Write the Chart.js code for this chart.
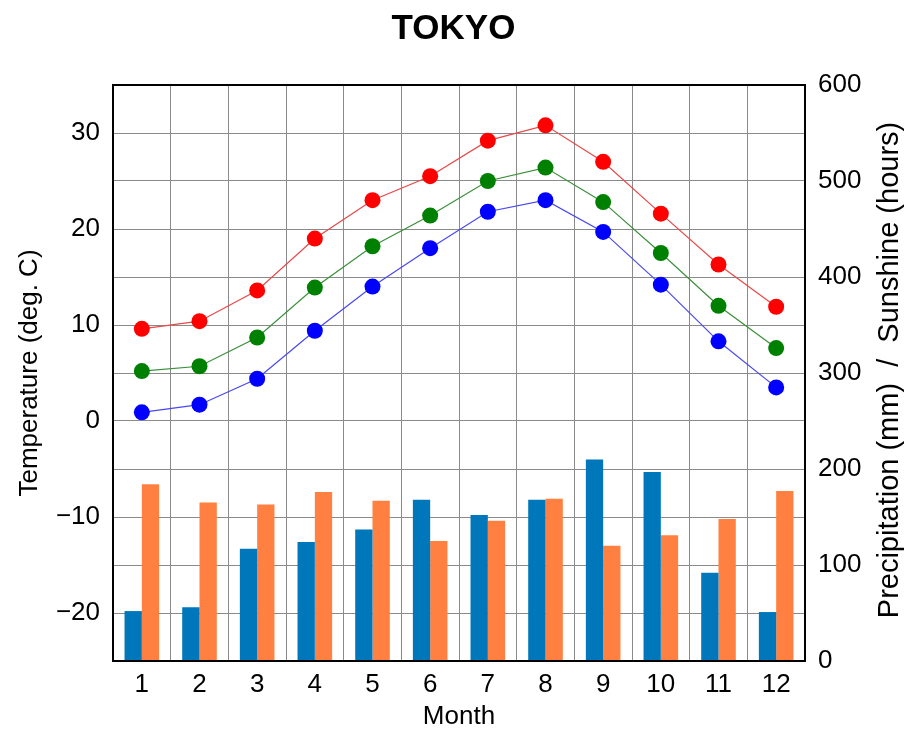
<!DOCTYPE html>
<html>
<head>
<meta charset="utf-8">
<script src="https://cdn.jsdelivr.net/npm/chart.js@4/dist/chart.umd.min.js"></script>
<style>
  body { margin: 0; background: #fff; }
  #wrap { width: 907px; height: 730px; position: relative; }
</style>
</head>
<body>
<div id="wrap"><canvas id="chart"></canvas></div>
<script>
const months = ['1', '2', '3', '4', '5', '6', '7', '8', '9', '10', '11', '12'];
const tempHigh = [9.6, 10.4, 13.6, 19.0, 23.0, 25.5, 29.2, 30.8, 27.0, 21.6, 16.3, 11.9];
const tempMean = [5.2, 5.7, 8.7, 13.9, 18.2, 21.4, 25.0, 26.4, 22.8, 17.5, 12.0, 7.6];
const tempLow = [0.9, 1.7, 4.4, 9.4, 14.0, 18.0, 21.8, 23.0, 19.7, 14.2, 8.3, 3.5];
const precipitation = [52, 56, 117, 124, 137, 168, 152, 168, 210, 197, 92, 51];
const sunshine = [184, 165, 163, 176, 167, 125, 146, 169, 120, 131, 148, 177];

const FONT = "'Liberation Sans', Arial, sans-serif";
const rightTitle = 'Precipitation (mm)  /  Sunshine (hours)';

function lineSet(label, values, lineColor, dotColor) {
    return {
        type: 'line',
        label: label,
        data: values,
        yAxisID: 'y',
        borderColor: lineColor,
        borderWidth: 1.2,
        pointRadius: 8,
        pointBorderWidth: 0,
        pointBackgroundColor: dotColor,
        tension: 0,
        order: 0
    };
}

function barSet(label, values, color) {
    return {
        type: 'bar',
        label: label,
        data: values,
        yAxisID: 'y1',
        backgroundColor: color,
        borderWidth: 0,
        categoryPercentage: 0.6,
        barPercentage: 1.0,
        order: 1
    };
}

// frame around the plot + right axis title reading bottom-to-top
const framePlugin = {
    id: 'frame',
    afterDraw(chart) {
        const ctx = chart.ctx;
        const a = chart.chartArea;
        ctx.save();
        ctx.strokeStyle = '#000';
        ctx.lineWidth = 2;
        ctx.strokeRect(a.left, a.top, a.right - a.left, a.bottom - a.top);
        ctx.translate(890, (a.top + a.bottom) / 2 - 3);
        ctx.rotate(-Math.PI / 2);
        ctx.font = '29px ' + FONT;
        ctx.fillStyle = '#000';
        ctx.textAlign = 'center';
        ctx.textBaseline = 'middle';
        ctx.fillText(rightTitle, 0, 0);
        ctx.restore();
    }
};

new Chart(document.getElementById('chart'), {
    type: 'bar',
    data: {
        labels: months,
        datasets: [
            lineSet('High', tempHigh, '#e84848', '#ff0000'),
            lineSet('Mean', tempMean, '#3a8f3a', '#008000'),
            lineSet('Low', tempLow, '#4848f0', '#0000ff'),
            barSet('Precipitation', precipitation, '#0077bb'),
            barSet('Sunshine', sunshine, '#ff8040')
        ]
    },
    options: {
        responsive: true,
        maintainAspectRatio: false,
        animation: false,
        layout: { padding: 0 },
        plugins: {
            legend: { display: false },
            tooltip: { enabled: false },
            title: {
                display: true,
                text: 'TOKYO',
                color: '#000',
                font: { family: FONT, size: 35, weight: 'bold', lineHeight: 1.2 },
                padding: { top: 8, bottom: 35 }
            }
        },
        scales: {
            x: {
                offset: true,
                grid: { offset: true, color: '#8a8a8a', lineWidth: 1, drawTicks: false },
                border: { display: false },
                ticks: { color: '#000', font: { family: FONT, size: 26 }, padding: 8, maxRotation: 0 },
                title: {
                    display: true, text: 'Month', color: '#000',
                    font: { family: FONT, size: 26, lineHeight: 1.0 },
                    padding: { top: 0, bottom: 0 }
                },
                afterFit(scale) { scale.height = 69; }
            },
            y: {
                position: 'left',
                min: -25,
                max: 35,
                grid: { color: '#8a8a8a', lineWidth: 1, drawTicks: false },
                border: { display: false },
                ticks: {
                    stepSize: 5,
                    color: '#000',
                    font: { family: FONT, size: 26 },
                    padding: 13,
                    callback: function (v) {
                        if (v % 10 !== 0) return '';
                        return v < 0 ? '\u2212' + Math.abs(v) : String(v);
                    }
                },
                title: {
                    display: true, text: 'Temperature (deg. C)', color: '#000',
                    font: { family: FONT, size: 26, lineHeight: 1.2 },
                    padding: { top: 14, bottom: 0 }
                },
                afterFit(scale) { scale.width = 113; }
            },
            y1: {
                position: 'right',
                min: 0,
                max: 600,
                grid: { display: false, drawTicks: false },
                border: { display: false },
                ticks: {
                    stepSize: 50,
                    color: '#000',
                    font: { family: FONT, size: 26 },
                    padding: 13,
                    callback: function (v) {
                        return v % 100 !== 0 ? '' : String(v);
                    }
                },
                afterFit(scale) { scale.width = 102; }
            }
        }
    },
    plugins: [framePlugin]
});
</script>
</body>
</html>
